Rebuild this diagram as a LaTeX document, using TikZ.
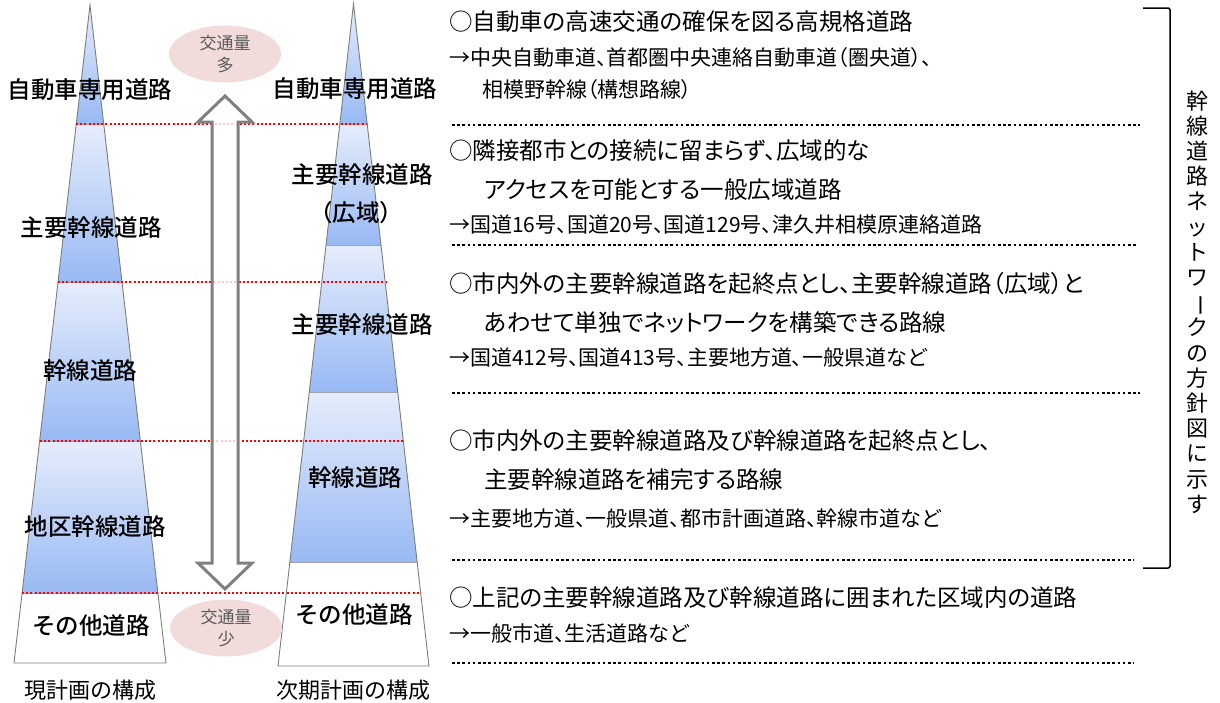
\documentclass[tikz,border=0pt]{standalone}
\usepackage{fontspec}
\setmainfont{Noto Sans CJK JP}[CharacterWidth=AlternateProportional]
\newfontfamily\jpfull{Noto Sans CJK JP}
\newfontfamily\jpmed{Noto Sans CJK JP Medium}
\usetikzlibrary{shapes.geometric}
\definecolor{segtop}{RGB}{230,237,252}
\definecolor{segbot}{RGB}{152,185,244}
\definecolor{edgegray}{RGB}{125,125,125}
\definecolor{pinkfill}{RGB}{242,220,219}
\definecolor{ovaltext}{RGB}{90,90,90}
\definecolor{arrowgray}{RGB}{128,128,128}
\begin{document}
\begin{tikzpicture}[x=1pt,y=-1pt,
  seg/.style={top color=segtop,bottom color=segbot},
  segline/.style={draw=edgegray!70,line width=0.8pt},
  outline/.style={draw=edgegray,line width=0.9pt,line join=miter},
  reddot/.style={red,line width=2pt,dash pattern=on 2pt off 2.2pt},
  blackdot/.style={black,line width=2.6pt,dash pattern=on 2.6pt off 2.6pt},
  lbl/.style={font=\jpmed\fontsize{23.5}{30}\selectfont,align=center,inner sep=0pt},
  caption/.style={font=\jpfull\fontsize{22}{22}\selectfont,inner sep=0pt},
  big/.style={anchor=west,inner sep=0pt,font=\fontsize{23.5}{23.5}\selectfont},
  small/.style={anchor=west,inner sep=0pt,font=\fontsize{21}{21}\selectfont},
  oval/.style={ellipse,fill=pinkfill,draw=none,minimum width=112pt,minimum height=57pt,inner sep=0pt,
    align=center,text=ovaltext,font=\jpfull\fontsize{17}{22}\selectfont},
  vtext/.style={align=center,inner sep=0pt,font=\jpfull\fontsize{22}{25.2}\selectfont}
]
\useasboundingbox (0,0) rectangle (1220,702);
\fill[white] (0,0) rectangle (1220,702);

% ---------- left triangle (current plan) ----------
\coordinate (LA) at (90,5);
\coordinate (LBL) at (14,663);
\coordinate (LBR) at (166,663);
\begin{scope}
  \clip (LA) -- (LBL) -- (LBR) -- cycle;
  \shade[seg] (0,5) rectangle (200,124);
  \shade[seg] (0,124) rectangle (200,282);
  \shade[seg] (0,282) rectangle (200,441);
  \shade[seg] (0,441) rectangle (200,593);
  \fill[white] (0,593) rectangle (200,663);
  \draw[segline] (0,124) -- (200,124);
  \draw[segline] (0,282) -- (200,282);
  \draw[segline] (0,441) -- (200,441);
  \draw[segline] (0,593) -- (200,593);
\end{scope}
\draw[outline] (LA) -- (LBL) -- (LBR) -- cycle;

% ---------- right triangle (next plan) ----------
\coordinate (RA) at (353.5,4);
\coordinate (RBL) at (278,666);
\coordinate (RBR) at (429,666);
\begin{scope}
  \clip (RA) -- (RBL) -- (RBR) -- cycle;
  \shade[seg] (250,4) rectangle (460,124);
  \shade[seg] (250,124) rectangle (460,245);
  \shade[seg] (250,245) rectangle (460,392);
  \shade[seg] (250,392) rectangle (460,562);
  \fill[white] (250,562) rectangle (460,666);
  \draw[segline] (250,124) -- (460,124);
  \draw[segline] (250,245) -- (460,245);
  \draw[segline] (250,392) -- (460,392);
  \draw[segline] (250,562) -- (460,562);
\end{scope}
\draw[outline] (RA) -- (RBL) -- (RBR) -- cycle;

% ---------- red dotted level lines ----------
\draw[reddot] (76,124) -- (367,124);
\draw[reddot] (58,282) -- (386,282);
\draw[reddot] (40,441) -- (404,441);
\draw[reddot] (22,593) -- (421,593);

% ---------- double arrow ----------
\draw[arrowgray,line width=3pt,line join=miter,fill=white,fill opacity=0.78]
  (225,96) -- (252,122) -- (238,122) -- (238,563) -- (252,563) -- (225,589)
  -- (198,563) -- (212,563) -- (212,122) -- (198,122) -- cycle;

% ---------- traffic ovals ----------
\node[oval] (hi) at (225,54) {交通量\\多};
\node[oval] (lo) at (226,628) {交通量\\少};

% ---------- triangle labels ----------
\node[lbl] (l1) at (90,90) {自動車専用道路};
\node[lbl] (l2) at (91,228) {主要幹線道路};
\node[lbl] (l3) at (90,371) {幹線道路};
\node[lbl] (l4) at (95,527) {地区幹線道路};
\node[lbl] (l5) at (91,626) {その他道路};
\node[caption] (c1) at (90,690) {現計画の構成};

\node[lbl] (r1) at (355,89) {自動車専用道路};
\node[lbl] (r2) at (362,175) {主要幹線道路};
\node[lbl] (r2b) at (356,213) {（広域）};
\node[lbl] (r3) at (362,325) {主要幹線道路};
\node[lbl] (r4) at (355,478) {幹線道路};
\node[lbl] (r5) at (354,615) {その他道路};
\node[caption] (c2) at (353,690) {次期計画の構成};

% ---------- description texts ----------
\node[big] (t1) at (449,22) {○自動車の高速交通の確保を図る高規格道路};
\node[small] (t2) at (449,58) {→中央自動車道、首都圏中央連絡自動車道（圏央道）、};
\node[small] (t3) at (482,90) {相模野幹線（構想路線）};
\draw[blackdot] (452,125) -- (1140,125);

\node[big] (t4) at (449,151) {○隣接都市との接続に留まらず、広域的な};
\node[big] (t5) at (484,190) {アクセスを可能とする一般広域道路};
\node[small] (t6) at (449,225) {→国道16号、国道20号、国道129号、津久井相模原連絡道路};
\draw[blackdot] (452,245) -- (1138,245);

\node[big] (t7) at (449,284) {○市内外の主要幹線道路を起終点とし、主要幹線道路（広域）と};
\node[big] (t8) at (484,323) {あわせて単独でネットワークを構築できる路線};
\node[small] (t9) at (449,358) {→国道412号、国道413号、主要地方道、一般県道など};
\draw[blackdot] (452,393) -- (1140,393);

\node[big] (t10) at (449,441) {○市内外の主要幹線道路及び幹線道路を起終点とし、};
\node[big] (t11) at (484,480) {主要幹線道路を補完する路線};
\node[small] (t12) at (449,518) {→主要地方道、一般県道、都市計画道路、幹線市道など};
\draw[blackdot] (452,560) -- (1134,560);

\node[big] (t13) at (449,598) {○上記の主要幹線道路及び幹線道路に囲まれた区域内の道路};
\node[small] (t14) at (449,633) {→一般市道、生活道路など};
\draw[blackdot] (452,663) -- (1134,663);

% ---------- bracket and vertical note ----------
\coordinate (bt) at (1143,8);
\coordinate (bb) at (1143,568);
\draw[line width=1.5pt,rounded corners=2pt] (bt) -- (1170,8) -- (1170,568) -- (bb);
\node[vtext] (vt) at (1197,302) {幹\\線\\道\\路\\ネ\\ッ\\ト\\ワ\\\rotatebox[origin=c]{-90}{ー}\\ク\\の\\方\\針\\図\\に\\示\\す};
\end{tikzpicture}
\end{document}
